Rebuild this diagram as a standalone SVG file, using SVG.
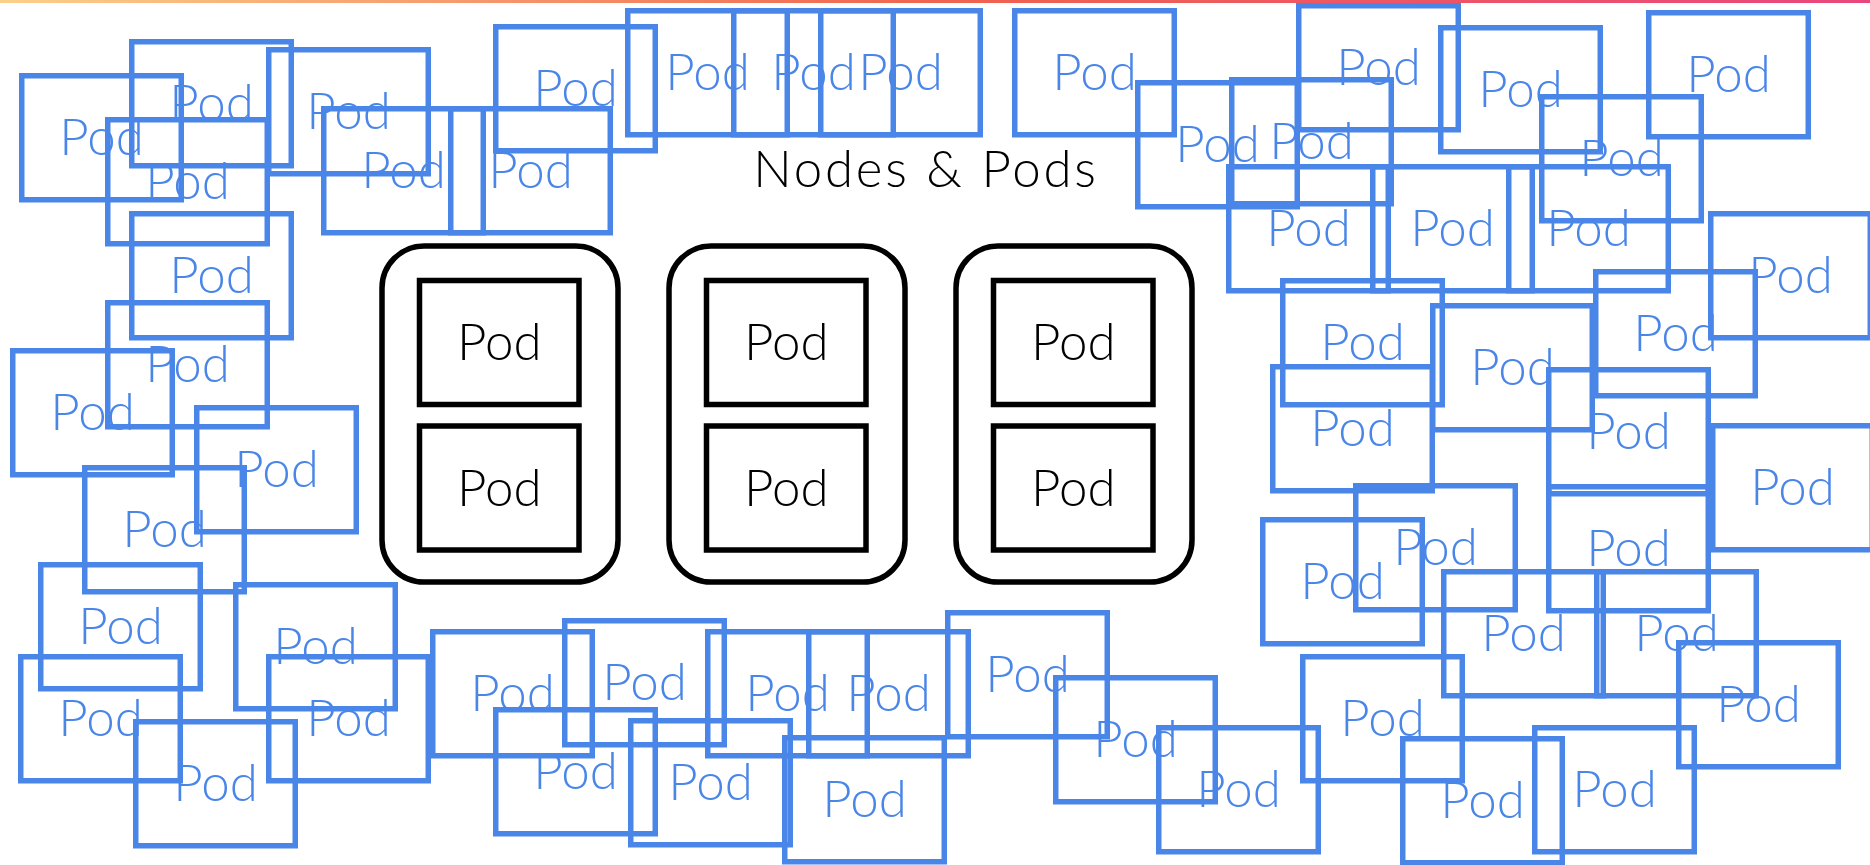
<svg xmlns="http://www.w3.org/2000/svg" width="1870" height="865" viewBox="0 0 1870 865">
<defs>
<linearGradient id="topbar" x1="0" y1="0" x2="1" y2="0">
<stop offset="0" stop-color="#fbcf8a"/>
<stop offset="0.5" stop-color="#f0644e"/>
<stop offset="1" stop-color="#e9477c"/>
</linearGradient>
</defs>
<style>
.bp rect{fill:none;stroke:#4a86e8;stroke-width:5.5}
.bp text{fill:#4a86e8}
text{font-family:Lato,"DejaVu Sans","Liberation Sans",sans-serif;font-size:51px;font-weight:300;text-anchor:middle}
.node rect{fill:none;stroke:#000;stroke-width:5.5}
.node text{fill:#000}
.title{fill:#000;letter-spacing:2.8px}
</style>
<rect x="0" y="0" width="1870" height="3" fill="url(#topbar)"/>
<text class="title" x="926" y="187">Nodes &amp; Pods</text>
<g id="node-1" class="node">
<rect x="382" y="246" width="236" height="336" rx="42"/>
<rect x="419.5" y="280.5" width="159.5" height="124"/><text x="499.3" y="360">Pod</text>
<rect x="419.5" y="426" width="159.5" height="124"/><text x="499.3" y="505.5">Pod</text>
</g>
<g id="node-2" class="node">
<rect x="669" y="246" width="236" height="336" rx="42"/>
<rect x="706.5" y="280.5" width="159.5" height="124"/><text x="786.3" y="360">Pod</text>
<rect x="706.5" y="426" width="159.5" height="124"/><text x="786.3" y="505.5">Pod</text>
</g>
<g id="node-3" class="node">
<rect x="956" y="246" width="236" height="336" rx="42"/>
<rect x="993.5" y="280.5" width="159.5" height="124"/><text x="1073.3" y="360">Pod</text>
<rect x="993.5" y="426" width="159.5" height="124"/><text x="1073.3" y="505.5">Pod</text>
</g>
<g id="pods">
<g id="pod-1" class="bp"><rect x="21.75" y="75.75" width="159.5" height="124"/><text x="101.5" y="155">Pod</text></g>
<g id="pod-2" class="bp"><rect x="131.75" y="41.75" width="159.5" height="124"/><text x="211.5" y="121">Pod</text></g>
<g id="pod-3" class="bp"><rect x="107.75" y="119.75" width="159.5" height="124"/><text x="187.5" y="199">Pod</text></g>
<g id="pod-4" class="bp"><rect x="268.75" y="49.75" width="159.5" height="124"/><text x="348.5" y="129">Pod</text></g>
<g id="pod-5" class="bp"><rect x="323.75" y="108.75" width="159.5" height="124"/><text x="403.5" y="188">Pod</text></g>
<g id="pod-6" class="bp"><rect x="450.75" y="108.75" width="159.5" height="124"/><text x="530.5" y="188">Pod</text></g>
<g id="pod-7" class="bp"><rect x="495.75" y="26.75" width="159.5" height="124"/><text x="575.5" y="106">Pod</text></g>
<g id="pod-8" class="bp"><rect x="627.75" y="10.75" width="159.5" height="124"/><text x="707.5" y="90">Pod</text></g>
<g id="pod-9" class="bp"><rect x="733.75" y="10.75" width="159.5" height="124"/><text x="813.5" y="90">Pod</text></g>
<g id="pod-10" class="bp"><rect x="820.75" y="10.75" width="159.5" height="124"/><text x="900.5" y="90">Pod</text></g>
<g id="pod-11" class="bp"><rect x="1014.75" y="10.75" width="159.5" height="124"/><text x="1094.5" y="90">Pod</text></g>
<g id="pod-12" class="bp"><rect x="1137.75" y="82.75" width="159.5" height="124"/><text x="1217.5" y="162">Pod</text></g>
<g id="pod-13" class="bp"><rect x="1231.75" y="79.75" width="159.5" height="124"/><text x="1311.5" y="159">Pod</text></g>
<g id="pod-14" class="bp"><rect x="1298.75" y="5.75" width="159.5" height="124"/><text x="1378.5" y="85">Pod</text></g>
<g id="pod-15" class="bp"><rect x="1440.75" y="27.75" width="159.5" height="124"/><text x="1520.5" y="107">Pod</text></g>
<g id="pod-16" class="bp"><rect x="1648.75" y="12.75" width="159.5" height="124"/><text x="1728.5" y="92">Pod</text></g>
<g id="pod-17" class="bp"><rect x="1541.75" y="96.75" width="159.5" height="124"/><text x="1621.5" y="176">Pod</text></g>
<g id="pod-18" class="bp"><rect x="1228.75" y="166.75" width="159.5" height="124"/><text x="1308.5" y="246">Pod</text></g>
<g id="pod-19" class="bp"><rect x="1372.75" y="166.75" width="159.5" height="124"/><text x="1452.5" y="246">Pod</text></g>
<g id="pod-20" class="bp"><rect x="1508.75" y="166.75" width="159.5" height="124"/><text x="1588.5" y="246">Pod</text></g>
<g id="pod-21" class="bp"><rect x="1282.75" y="280.75" width="159.5" height="124"/><text x="1362.5" y="360">Pod</text></g>
<g id="pod-22" class="bp"><rect x="1432.75" y="305.75" width="159.5" height="124"/><text x="1512.5" y="385">Pod</text></g>
<g id="pod-23" class="bp"><rect x="1595.75" y="271.75" width="159.5" height="124"/><text x="1675.5" y="351">Pod</text></g>
<g id="pod-24" class="bp"><rect x="1710.75" y="213.75" width="159.5" height="124"/><text x="1790.5" y="293">Pod</text></g>
<g id="pod-25" class="bp"><rect x="1272.75" y="366.75" width="159.5" height="124"/><text x="1352.5" y="446">Pod</text></g>
<g id="pod-26" class="bp"><rect x="1548.75" y="369.75" width="159.5" height="124"/><text x="1628.5" y="449">Pod</text></g>
<g id="pod-27" class="bp"><rect x="1712.75" y="425.75" width="159.5" height="124"/><text x="1792.5" y="505">Pod</text></g>
<g id="pod-28" class="bp"><rect x="1548.75" y="486.75" width="159.5" height="124"/><text x="1628.5" y="566">Pod</text></g>
<g id="pod-29" class="bp"><rect x="1355.75" y="485.75" width="159.5" height="124"/><text x="1435.5" y="565">Pod</text></g>
<g id="pod-30" class="bp"><rect x="1262.75" y="519.75" width="159.5" height="124"/><text x="1342.5" y="599">Pod</text></g>
<g id="pod-31" class="bp"><rect x="1443.75" y="571.75" width="159.5" height="124"/><text x="1523.5" y="651">Pod</text></g>
<g id="pod-32" class="bp"><rect x="1596.75" y="571.75" width="159.5" height="124"/><text x="1676.5" y="651">Pod</text></g>
<g id="pod-33" class="bp"><rect x="1678.75" y="642.75" width="159.5" height="124"/><text x="1758.5" y="722">Pod</text></g>
<g id="pod-34" class="bp"><rect x="1302.75" y="656.75" width="159.5" height="124"/><text x="1382.5" y="736">Pod</text></g>
<g id="pod-35" class="bp"><rect x="1402.75" y="738.75" width="159.5" height="124"/><text x="1482.5" y="818">Pod</text></g>
<g id="pod-36" class="bp"><rect x="1534.75" y="727.75" width="159.5" height="124"/><text x="1614.5" y="807">Pod</text></g>
<g id="pod-37" class="bp"><rect x="1158.75" y="727.75" width="159.5" height="124"/><text x="1238.5" y="807">Pod</text></g>
<g id="pod-38" class="bp"><rect x="947.75" y="612.75" width="159.5" height="124"/><text x="1027.5" y="692">Pod</text></g>
<g id="pod-39" class="bp"><rect x="1055.75" y="677.75" width="159.5" height="124"/><text x="1135.5" y="757">Pod</text></g>
<g id="pod-40" class="bp"><rect x="707.75" y="631.75" width="159.5" height="124"/><text x="787.5" y="711">Pod</text></g>
<g id="pod-41" class="bp"><rect x="808.75" y="631.75" width="159.5" height="124"/><text x="888.5" y="711">Pod</text></g>
<g id="pod-42" class="bp"><rect x="564.75" y="620.75" width="159.5" height="124"/><text x="644.5" y="700">Pod</text></g>
<g id="pod-43" class="bp"><rect x="630.75" y="720.75" width="159.5" height="124"/><text x="710.5" y="800">Pod</text></g>
<g id="pod-44" class="bp"><rect x="784.75" y="737.75" width="159.5" height="124"/><text x="864.5" y="817">Pod</text></g>
<g id="pod-45" class="bp"><rect x="495.75" y="709.75" width="159.5" height="124"/><text x="575.5" y="789">Pod</text></g>
<g id="pod-46" class="bp"><rect x="12.75" y="350.75" width="159.5" height="124"/><text x="92.5" y="430">Pod</text></g>
<g id="pod-47" class="bp"><rect x="196.75" y="407.75" width="159.5" height="124"/><text x="276.5" y="487">Pod</text></g>
<g id="pod-48" class="bp"><rect x="84.75" y="467.75" width="159.5" height="124"/><text x="164.5" y="547">Pod</text></g>
<g id="pod-49" class="bp"><rect x="40.75" y="564.75" width="159.5" height="124"/><text x="120.5" y="644">Pod</text></g>
<g id="pod-50" class="bp"><rect x="235.75" y="584.75" width="159.5" height="124"/><text x="315.5" y="664">Pod</text></g>
<g id="pod-51" class="bp"><rect x="20.75" y="656.75" width="159.5" height="124"/><text x="100.5" y="736">Pod</text></g>
<g id="pod-52" class="bp"><rect x="135.75" y="721.75" width="159.5" height="124"/><text x="215.5" y="801">Pod</text></g>
<g id="pod-53" class="bp"><rect x="268.75" y="656.75" width="159.5" height="124"/><text x="348.5" y="736">Pod</text></g>
<g id="pod-54" class="bp"><rect x="432.75" y="631.75" width="159.5" height="124"/><text x="512.5" y="711">Pod</text></g>
<g id="pod-55" class="bp"><rect x="131.75" y="213.75" width="159.5" height="124"/><text x="211.5" y="293">Pod</text></g>
<g id="pod-56" class="bp"><rect x="107.75" y="302.75" width="159.5" height="124"/><text x="187.5" y="382">Pod</text></g>
</g>
<g id="connectors"></g>
</svg>
